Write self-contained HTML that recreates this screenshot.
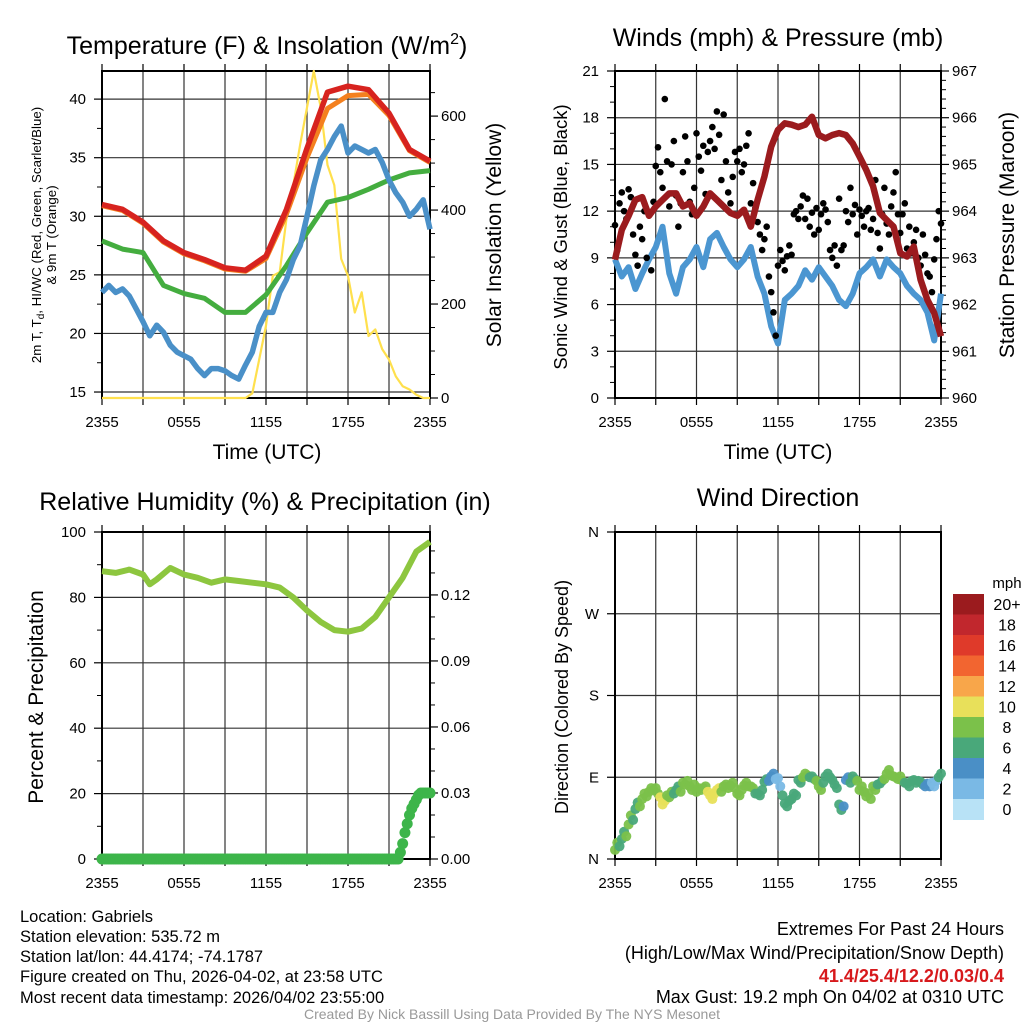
<!DOCTYPE html>
<html><head><meta charset="utf-8"><style>
html,body{margin:0;padding:0;background:#fff;}
svg{display:block;font-family:"Liberation Sans",Arial,sans-serif;}
</style></head><body>
<svg id="chart" width="1024" height="1024" viewBox="0 0 1024 1024" xmlns="http://www.w3.org/2000/svg">
<rect width="1024" height="1024" fill="#fff"/>
<text x="267" y="54" font-size="25" text-anchor="middle">Temperature (F) &amp; Insolation (W/m<tspan font-size="16" dy="-10">2</tspan><tspan dy="10">)</tspan></text>
<text x="778" y="46" font-size="25" text-anchor="middle">Winds (mph) &amp; Pressure (mb)</text>
<text x="265" y="510" font-size="25" text-anchor="middle">Relative Humidity (%) &amp; Precipitation (in)</text>
<text x="778" y="506" font-size="25" text-anchor="middle">Wind Direction</text>
<text transform="translate(41,235) rotate(-90)" font-size="13.3" text-anchor="middle">2m T, T<tspan font-size="10" dy="3">d</tspan><tspan dy="-3">, HI/WC (Red, Green, Scarlet/Blue)</tspan></text>
<text transform="translate(56,235) rotate(-90)" font-size="13.3" text-anchor="middle">&amp; 9m T (Orange)</text>
<text transform="translate(501,235) rotate(-90)" font-size="21" text-anchor="middle">Solar Insolation (Yellow)</text>
<text transform="translate(567,237) rotate(-90)" font-size="18.5" text-anchor="middle">Sonic Wind &amp; Gust (Blue, Black)</text>
<text transform="translate(1014,235) rotate(-90)" font-size="21" text-anchor="middle">Station Pressure (Maroon)</text>
<text transform="translate(43,697) rotate(-90)" font-size="21" text-anchor="middle">Percent &amp; Precipitation</text>
<text transform="translate(568,697) rotate(-90)" font-size="18" text-anchor="middle">Direction (Colored By Speed)</text>
<text x="267" y="459" font-size="21" text-anchor="middle">Time (UTC)</text>
<text x="778" y="459" font-size="21" text-anchor="middle">Time (UTC)</text>
<g font-size="16.5">
<text x="20" y="922">Location: Gabriels</text>
<text x="20" y="942">Station elevation: 535.72 m</text>
<text x="20" y="962">Station lat/lon: 44.4174; -74.1787</text>
<text x="20" y="982">Figure created on Thu, 2026-04-02, at 23:58 UTC</text>
<text x="20" y="1003">Most recent data timestamp: 2026/04/02 23:55:00</text>
</g>
<g font-size="18" text-anchor="end">
<text x="1004" y="935">Extremes For Past 24 Hours</text>
<text x="1004" y="959">(High/Low/Max Wind/Precipitation/Snow Depth)</text>
<text x="1004" y="982" fill="#d7191c" font-weight="bold">41.4/25.4/12.2/0.03/0.4</text>
<text x="1004" y="1003">Max Gust: 19.2 mph On 04/02 at 0310 UTC</text>
</g>
<text x="512" y="1019" font-size="14" fill="#999" text-anchor="middle">Created By Nick Bassill Using Data Provided By The NYS Mesonet</text>
</svg>
<script>
// ---------- data ----------
const xTickLabels = ['2355','0555','1155','1755','2355'];
const tempHours = [0,1.5,3,4.5,6,7.5,9,10.5,12,13.5,15,16.5,18,19.5,21,22.5,24];
const tempRed = [31,30.6,29.5,27.9,26.9,26.3,25.6,25.4,26.6,30.6,35.8,40.6,41.1,40.8,38.8,35.7,34.7];
const tempOrange = [30.9,30.5,29.4,27.8,26.8,26.2,25.5,25.3,26.4,30.2,35,39.2,40.3,40.4,38.6,35.6,34.6];
const dewGreen = [27.9,27.2,26.9,24.1,23.4,23,21.8,21.8,23.3,25.8,28.6,31.2,31.6,32.3,33.1,33.7,33.9];
const halfHours = [0,0.5,1,1.5,2,2.5,3,3.5,4,4.5,5,5.5,6,6.5,7,7.5,8,8.5,9,9.5,10,10.5,11,11.5,12,12.5,13,13.5,14,14.5,15,15.5,16,16.5,17,17.5,18,18.5,19,19.5,20,20.5,21,21.5,22,22.5,23,23.5,24];
const windChillBlue = [23.5,24.1,23.5,23.8,23.2,22.1,21,19.8,20.7,20.1,19,18.4,18.1,17.8,17,16.4,17,17,16.8,16.4,16.1,17.3,18.4,20.6,21.8,21.8,23.5,24.6,26.3,27.5,30,32.6,34.8,35.7,36.8,37.7,35.4,36,35.7,35.4,35.7,34.6,33.1,32,31.2,30,30.6,31.4,28.9];
const solar = [0,0,0,0,0,0,0,0,0,0,0,0,0,0,0,0,0,0,0,0,0,0,10,82,154,260,268,382,453,540,618,696,618,496,453,296,260,182,225,132,146,104,82,46,25,18,7,0,0];
const sonicWind = [8.9,7.8,8.4,7,8,8.9,9.7,11,8,6.7,8.4,8.9,9.7,8.4,10.2,10.6,9.7,8.9,8.4,8.9,9.7,7.8,6.7,4.6,3.5,6.3,6.7,7.2,8.2,7.6,8.4,7.8,7.2,6.3,5.9,6.7,8,8.4,8.9,7.8,8.9,8.4,8,7.2,6.7,6.3,5.5,3.7,6.7];
const pressure = [962.96,963.6,963.9,964.24,964.3,963.9,964.1,964.24,964.38,964.38,964.1,964.17,963.9,964.1,964.38,964.24,964.1,963.96,963.9,964.03,963.67,964.24,964.74,965.38,965.74,965.88,965.85,965.8,965.85,966.02,965.63,965.56,965.63,965.67,965.63,965.45,965.17,964.88,964.53,963.96,963.81,963.67,963.1,963.03,963.24,962.53,962.1,961.82,961.32];
const gust = [
11.1,9.5,12.5,13.2,12.0,11.5, 13.4,12.9,10.5,9.2,8.5,11.0, 10.2,12.0,9.0,11.8,8.2,12.6,
14.9,16.1,14.5,13.5,19.2,15.2, 12.3,15.0,16.5,13.0,11.0,12.5, 14.5,16.8,15.2,12.6,11.8,13.5,
17.0,15.5,14.6,16.2,13.1,15.8, 16.5,17.4,16.0,18.4,16.9,14.0, 18.2,15.2,13.2,12.5,14.2,15.8,
15.2,16.0,14.5,15.0,16.2,17.0, 12.5,13.8,12.2,11.3,10.5,9.5, 10.2,11.0,7.8,6.8,5.5,4.0,
8.5,9.5,8.8,8.2,9.1,9.8, 9.2,11.8,12.0,11.5,12.3,13.0, 11.5,12.8,11.0,11.9,10.5,12.2,
10.8,11.8,12.5,12.1,11.3,9.5, 9.0,9.8,8.5,12.8,9.5,9.8, 12.0,11.3,13.5,11.8,12.4,10.5,
12.1,11.7,11.0,12.0,12.2,10.8, 11.5,14.0,10.6,9.6,11.8,13.5, 11.2,10.5,12.3,13.2,14.5,11.8,
10.6,11.8,12.5,9.6,11.0,9.3, 10.0,10.8,9.0,8.5,10.5,9.2, 8.0,7.8,6.8,8.9,10.2,12.0, 11.2];
const rhHours = [0,1,2,3,3.5,4,5,6,7,8,9,10,11,12,13,14,15,16,17,18,19,20,21,22,23,24];
const rh = [88,87.5,88.5,87,84,85.5,89,87,86,84.5,85.5,85,84.5,84,83,80,76,72.5,70,69.5,70.5,74,80,86,94,97];
const precip = [
0,0,0,0,0,0, 0,0,0,0,0,0, 0,0,0,0,0,0, 0,0,0,0,0,0, 0,0,0,0,0,0, 0,0,0,0,0,0, 0,0,0,0,0,0,
0,0,0,0,0,0, 0,0,0,0,0,0, 0,0,0,0,0,0, 0,0,0,0,0,0, 0,0,0,0,0,0, 0,0,0,0,0,0, 0,0,0,0,0,0,
0,0,0,0,0,0, 0,0,0,0,0,0, 0,0,0,0,0,0, 0,0,0,0,0,0, 0,0,0,0,0,0, 0,0,0,0,0,0, 0,0,0,0,0,0,
0,0,0,0,0,0.003, 0.007,0.012,0.016,0.02,0.023,0.025, 0.027,0.029,0.03,0.03,0.03,0.03, 0.03];
const direction = [10,18,14,22,30,25,38,48,43,55,62,58,66,72,69,74,78,76,78,72,68,60,64,70,68,74,72,76,80,74,84,82,86,80,76,82,74,78,76,78,80,74,70,66,72,76,78,74,80,82,78,81,84,78,72,70,76,81,84,80,80,78,72,72,70,76,85,88,86,91,94,88,89,80,70,61,58,64,66,72,70,87,84,90,94,92,90,91,88,86,80,76,84,91,94,90,87,82,78,60,54,58,87,90,84,91,88,86,76,80,74,69,72,66,80,76,82,83,86,88,94,98,92,91,90,88,91,86,84,83,80,86,87,84,86,85,82,80,83,80,84,80,86,90,94];
const speedLabels = ['0','2','4','6','8','10','12','14','16','18','20+'];
const speedColors = ['#b8e2f6','#7ab9e5','#4a8fc6','#49a87a','#7bc14a','#e8e05a','#f8a64a','#f26530','#df3a2a','#c1272d','#9b1b1e'];

// ---------- helpers ----------
const NS='http://www.w3.org/2000/svg';
const svg=document.getElementById('chart');
function mk(tag,attrs,parent){const e=document.createElementNS(NS,tag);for(const k in attrs)e.setAttribute(k,attrs[k]);(parent||svg).appendChild(e);return e;}
function lin(d0,d1,r0,r1){return v=>r0+(v-d0)/(d1-d0)*(r1-r0);}
const P1={x0:102,x1:430,y0:71,y1:398};
const P2={x0:615,x1:941,y0:71,y1:398};
const P3={x0:102,x1:430,y0:532,y1:859};
const P4={x0:615,x1:941,y0:532,y1:859};

function frame(P,yL,lMaj,lMin,lLab,yR,rMaj,rMin,rLab,name){
  const g=mk('g',{});
  
  
  const xs=lin(0,24,P.x0,P.x1);
  for(let h=3;h<24;h+=3){
    const l=mk('line',{x1:xs(h),x2:xs(h),y1:P.y0,y2:P.y1,stroke:'#333','stroke-width':1.2},g);
    
    
  }
  for(let h=0;h<=24;h+=3){
    const t1=mk('line',{x1:xs(h),x2:xs(h),y1:P.y1,y2:P.y1+7,stroke:'#000','stroke-width':1.2},g);
    
    
    const t2=mk('line',{x1:xs(h),x2:xs(h),y1:P.y0,y2:P.y0-7,stroke:'#000','stroke-width':1.2},g);
    
    
  }
  xTickLabels.forEach((s,i)=>{
    const t=mk('text',{x:xs(i*6),y:P.y1+29,'font-size':15,'text-anchor':'middle'},g);
    
    
    t.textContent=s;
  });
  lMaj.forEach((v,i)=>{
    const y=yL(v);
    const gl=mk('line',{x1:P.x0,x2:P.x1,y1:y,y2:y,stroke:'#333','stroke-width':1.2},g);
    
    
    const tk=mk('line',{x1:P.x0-8,x2:P.x0,y1:y,y2:y,stroke:'#000','stroke-width':1.2},g);
    
    
    const t=mk('text',{x:P.x0-16,y:y+5,'font-size':15,'text-anchor':'end'},g);
    
    
    t.textContent=lLab[i];
  });
  lMin.forEach(v=>{
    const y=yL(v);
    const tk=mk('line',{x1:P.x0-5,x2:P.x0,y1:y,y2:y,stroke:'#000','stroke-width':1},g);
    
    
  });
  if(yR){
    rMaj.forEach((v,i)=>{
      const y=yR(v);
      const tk=mk('line',{x1:P.x1,x2:P.x1+8,y1:y,y2:y,stroke:'#000','stroke-width':1.2},g);
      
      
      const t=mk('text',{x:P.x1+11,y:y+5,'font-size':15},g);
      
      
      t.textContent=rLab[i];
    });
    rMin.forEach(v=>{
      const y=yR(v);
      const tk=mk('line',{x1:P.x1,x2:P.x1+5,y1:y,y2:y,stroke:'#000','stroke-width':1},g);
      
      
    });
  }
  const b=mk('rect',{x:P.x0,y:P.y0,width:P.x1-P.x0,height:P.y1-P.y0,fill:'none',stroke:'#000','stroke-width':2},g);
  
  
  return xs;
}
function range(a,b,s){const r=[];for(let v=a;v<=b+1e-9;v+=s)r.push(+v.toFixed(4));return r;}
function pathD(xsArr,ysArr,xs,ys){return xsArr.map((h,i)=>(i?'L':'M')+xs(h).toFixed(1)+','+ys(ysArr[i]).toFixed(1)).join(' ');}

// ---------- panel 1 ----------
const y1L=lin(14.49,42.4,P1.y1,P1.y0);
const y1R=lin(0,696,P1.y1,P1.y0);
const x1=frame(P1,y1L,[15,20,25,30,35,40],range(17.5,42.5,5).filter(v=>v<42.4),['15','20','25','30','35','40'],
  y1R,[0,200,400,600],range(50,650,50).filter(v=>v%200),['0','200','400','600'],'temperature');
const solarLine=mk('path',{d:pathD(halfHours,solar,x1,y1R),fill:'none',stroke:'#ffe04d','stroke-width':2.2,'stroke-linejoin':'round'});


const greenLine=mk('path',{d:pathD(tempHours,dewGreen,x1,y1L),fill:'none',stroke:'#44ad3f','stroke-width':5,'stroke-linejoin':'round'});


const blueLine=mk('path',{d:pathD(halfHours,windChillBlue,x1,y1L),fill:'none',stroke:'#4a90c8','stroke-width':5.5,'stroke-linejoin':'round'});


const orangeLine=mk('path',{d:pathD(tempHours,tempOrange,x1,y1L),fill:'none',stroke:'#f4801f','stroke-width':5,'stroke-linejoin':'round'});


const redLine=mk('path',{d:pathD(tempHours,tempRed,x1,y1L),fill:'none',stroke:'#d7231f','stroke-width':5.5,'stroke-linejoin':'round'});



// ---------- panel 2 ----------
const y2L=lin(0,21,P2.y1,P2.y0);
const y2R=lin(960,967,P2.y1,P2.y0);
const x2=frame(P2,y2L,[0,3,6,9,12,15,18,21],range(0,21,1).filter(v=>v%3),['0','3','6','9','12','15','18','21'],
  y2R,[960,961,962,963,964,965,966,967],range(960.2,966.8,0.2).filter(v=>Math.abs(v-Math.round(v))>0.05),['960','961','962','963','964','965','966','967'],'winds');
const windLine=mk('path',{d:pathD(halfHours,sonicWind,x2,y2L),fill:'none',stroke:'#4b96d1','stroke-width':6,'stroke-linejoin':'round'});


const gustG=mk('g',{});


gust.forEach((v,i)=>{
  const c=mk('circle',{cx:x2(i/6),cy:y2L(v),r:3.3,fill:'#000'},gustG);
  
  
});
const presLine=mk('path',{d:pathD(halfHours,pressure,x2,y2R),fill:'none',stroke:'#9b1b1e','stroke-width':6.5,'stroke-linejoin':'round'});



// ---------- panel 3 ----------
const y3L=lin(0,100,P3.y1,P3.y0);
const y3R=lin(0,0.1486,P3.y1,P3.y0);
const x3=frame(P3,y3L,[0,20,40,60,80,100],[10,30,50,70,90],['0','20','40','60','80','100'],
  y3R,[0,0.03,0.06,0.09,0.12],[0.01,0.02,0.04,0.05,0.07,0.08,0.1,0.11,0.13,0.14],['0.00','0.03','0.06','0.09','0.12'],'humidity');
const rhLine=mk('path',{d:pathD(rhHours,rh,x3,y3L),fill:'none',stroke:'#8dc63f','stroke-width':6,'stroke-linejoin':'round'});


const prG=mk('g',{});


precip.forEach((v,i)=>{
  const c=mk('circle',{cx:x3(i/6),cy:y3R(v),r:5.5,fill:'#3db54a'},prG);
  
  
});

// ---------- panel 4 ----------
const y4L=lin(0,360,P4.y1,P4.y0);
const x4=frame(P4,y4L,[0,90,180,270,360],[],['N','E','S','W','N'],null,[],[],[],'direction');
const dG=mk('g',{});


direction.forEach((v,i)=>{
  const s=sonicWind[Math.round(i/3)];
  const ci=Math.min(10,Math.floor(s/2));
  const c=mk('circle',{cx:x4(i/6),cy:y4L(v),r:5,fill:speedColors[ci],'fill-opacity':0.95},dG);
  
  
});
// colorbar
const cb=mk('g',{});


const cbTop=594, cbH=20.5;
const mphT=mk('text',{x:1007,y:588,'font-size':15,'text-anchor':'middle'},cb);


mphT.textContent='mph';
speedLabels.forEach((lab,k)=>{
  const idx=10-k;
  const r=mk('rect',{x:953,y:cbTop+k*cbH,width:31,height:cbH+0.5,fill:speedColors[idx]},cb);
  
  
  const t=mk('text',{x:1007,y:cbTop+k*cbH+16,'font-size':16,'text-anchor':'middle'},cb);
  
  
  t.textContent=speedLabels[idx];
});
</script>
</body></html>
